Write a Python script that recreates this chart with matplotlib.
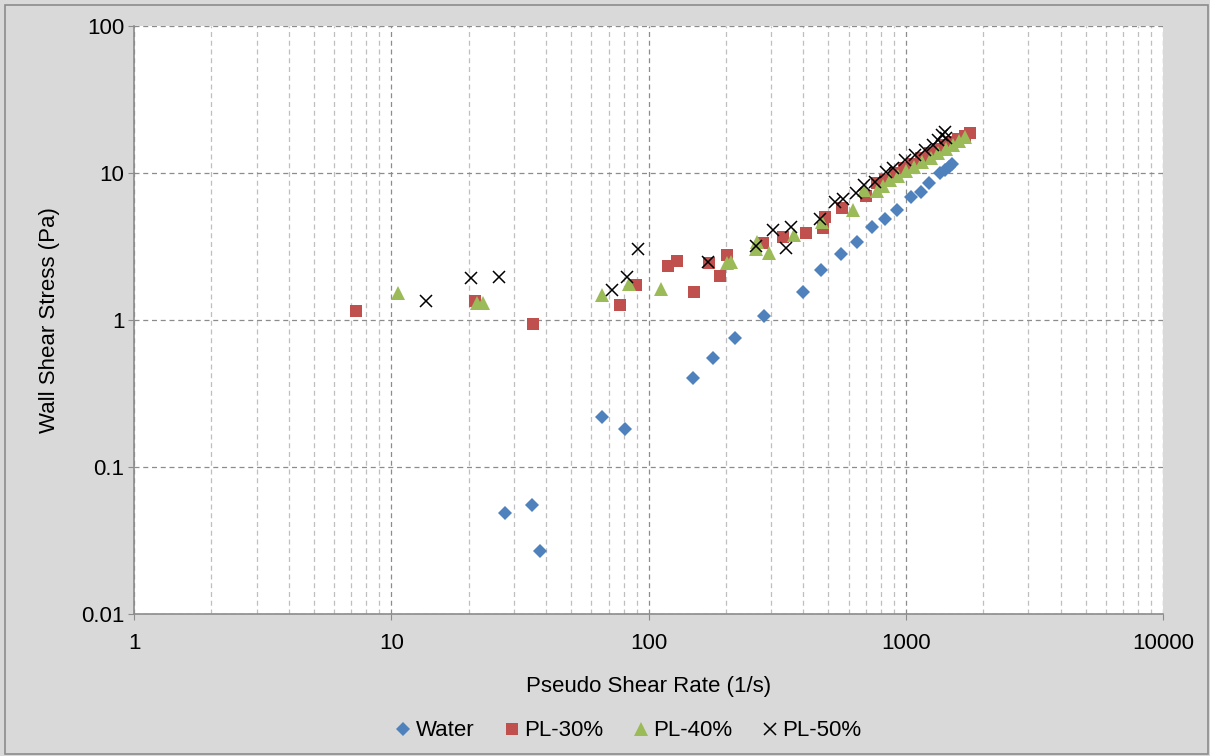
import matplotlib
matplotlib.use("Agg")
import matplotlib.pyplot as plt
import matplotlib.patches as mpatches
from matplotlib.ticker import LogLocator, FixedLocator, NullFormatter, FixedFormatter

plt.rcParams['font.family'] = ['Liberation Sans', 'DejaVu Sans']

# pseudo shear rate (1/s) and wall shear stress (Pa) for each fluid
water_rate = [27.7, 35.3, 37.9, 65.9, 81.1, 148.5, 178, 216, 281, 400, 470, 562, 645,
              741, 833, 925, 1045, 1143, 1227, 1359, 1421, 1475, 1517]
water_stress = [0.049, 0.055, 0.027, 0.219, 0.18, 0.40, 0.548, 0.75, 1.065, 1.55, 2.19, 2.80, 3.41,
                4.31, 4.87, 5.58, 6.84, 7.43, 8.51, 9.95, 10.5, 10.9, 11.5]

pl30_rate = [7.3, 21.2, 35.5, 77.3, 89.2, 118.7, 129, 150.7, 171.4, 189.6, 202, 279, 334, 409,
             475, 485, 564, 702, 771, 830, 905, 985, 1060, 1150, 1240, 1330, 1420, 1510,
             1600, 1700, 1780]
pl30_stress = [1.15, 1.35, 0.944, 1.27, 1.73, 2.33, 2.53, 1.55, 2.45, 2.0, 2.77, 3.36, 3.65, 3.89,
               4.2, 5.05, 5.75, 6.97, 8.6, 8.95, 10.0, 10.8, 11.6, 12.7, 13.6, 14.6, 15.4, 16.2,
               17.0, 17.8, 18.6]

pl40_rate = [10.6, 21.6, 22.8, 65.9, 83.7, 112, 202, 210, 262, 265, 295, 368, 471, 625, 689,
             775, 816, 870, 930, 1000, 1080, 1160, 1250, 1340, 1430, 1520, 1610, 1700]
pl40_stress = [1.52, 1.30, 1.30, 1.49, 1.76, 1.62, 2.43, 2.49, 3.05, 3.4, 2.84, 3.79, 4.66, 5.6, 7.7,
               7.5, 8.1, 8.9, 9.6, 10.3, 10.9, 11.8, 12.6, 13.6, 14.5, 15.5, 16.5, 17.6]

pl50_rate = [13.6, 20.5, 26.3, 71.9, 82.3, 91, 170, 262, 305, 342, 357, 464, 531, 572, 641, 689,
             760, 838, 889, 993, 1086, 1188, 1280, 1339, 1380, 1421, 1440]
pl50_stress = [1.35, 1.92, 1.97, 1.6, 1.97, 3.04, 2.49, 3.19, 4.1, 3.1, 4.27, 4.84, 6.38, 6.65, 7.35,
               8.28, 8.7, 10.2, 10.8, 12.3, 13.3, 14.3, 15.5, 16.7, 18.1, 19.1, 17.2]

x_ticks = [1, 10, 100, 1000, 10000]
x_labels = ['1', '10', '100', '1000', '10000']
y_ticks = [0.01, 0.1, 1, 10, 100]
y_labels = ['0.01', '0.1', '1', '10', '100']

fig = plt.figure(figsize=(12.1, 7.56), dpi=100, facecolor='#d9d9d9')
fig.patches.append(mpatches.Rectangle((5 / 1210, 2 / 756), 1203 / 1210, 749 / 756,
                                      transform=fig.transFigure, fill=False,
                                      edgecolor='#8c8c8c', linewidth=1.2))
ax = fig.add_axes([134 / 1210, 1 - 614 / 756, 1029 / 1210, 588 / 756])
ax.set_facecolor('white')
ax.set_xscale('log')
ax.set_yscale('log')
ax.set_xlim(1, 10000)
ax.set_ylim(0.01, 100)

ax.plot(water_rate, water_stress, 'D', color='#4f81bd', markersize=7, markeredgewidth=0,
        label='Water', zorder=3)
ax.plot(pl30_rate, pl30_stress, 's', color='#c0504d', markersize=9, markeredgewidth=0,
        label='PL-30%', zorder=3)
ax.plot(pl40_rate, pl40_stress, '^', color='#9bbb59', markersize=10, markeredgewidth=0,
        label='PL-40%', zorder=3)
ax.plot(pl50_rate, pl50_stress, 'x', color='black', markersize=9, markeredgewidth=1.1,
        label='PL-50%', zorder=4)

ax.xaxis.set_major_locator(FixedLocator(x_ticks))
ax.xaxis.set_major_formatter(FixedFormatter(x_labels))
ax.xaxis.set_minor_locator(LogLocator(base=10, subs=range(2, 10)))
ax.xaxis.set_minor_formatter(NullFormatter())
ax.yaxis.set_major_locator(FixedLocator(y_ticks))
ax.yaxis.set_major_formatter(FixedFormatter(y_labels))
ax.yaxis.set_minor_locator(FixedLocator([]))

ax.grid(True, which='major', axis='both', linestyle=(0, (4, 3)), color='#8c8c8c', linewidth=0.9)
ax.grid(True, which='minor', axis='x', linestyle=(0, (4, 3)), color='#bfbfbf', linewidth=0.9)
ax.set_axisbelow(True)

for side in ['top', 'right']:
    ax.spines[side].set_visible(False)
for side in ['left', 'bottom']:
    ax.spines[side].set_color('#8c8c8c')
    ax.spines[side].set_linewidth(1.2)
ax.tick_params(which='major', direction='out', length=4.5, color='#8c8c8c', labelsize=16,
               labelcolor='black')
ax.tick_params(axis='x', which='major', pad=9)
ax.tick_params(axis='y', which='major', pad=2.5)
ax.tick_params(which='minor', length=0)

ax.set_xlabel('Pseudo Shear Rate (1/s)', fontsize=16, labelpad=16)
ax.set_ylabel('Wall Shear Stress (Pa)', fontsize=16, labelpad=15)

fig.legend(loc='center', bbox_to_anchor=(0.518, 1 - 731 / 756), ncol=4, frameon=False,
           fontsize=16, handletextpad=0.05, columnspacing=1.2, handlelength=1.0)

fig.savefig('out.png', dpi=100, facecolor=fig.get_facecolor())
